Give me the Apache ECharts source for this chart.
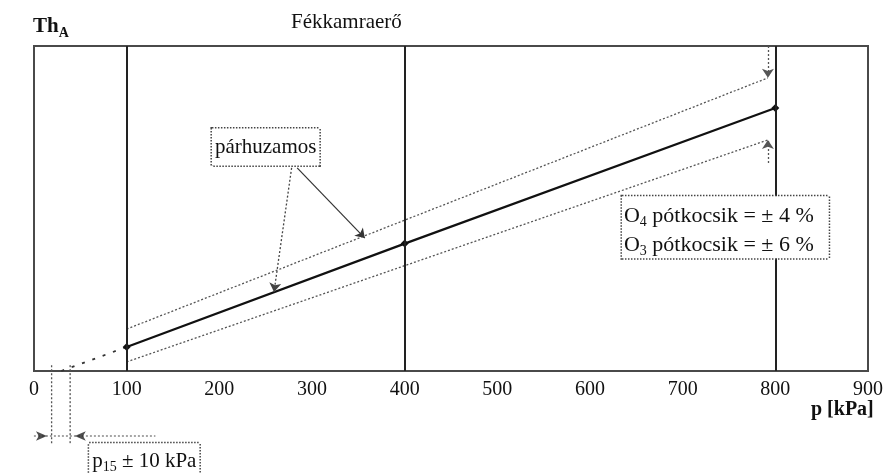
<!DOCTYPE html>
<html>
<head>
<meta charset="utf-8">
<script src="https://cdn.jsdelivr.net/npm/echarts/dist/echarts.min.js"></script>
<style>
  html, body { margin: 0; padding: 0; background: #fff; }
  #chart { width: 885px; height: 474px; }
</style>
</head>
<body>
<div id="chart"></div>
<script>
// Pressure axis (kPa)
const pressureMin = 0;
const pressureMax = 900;
const pressureStep = 100;

// Reference pressures marked with vertical lines
const refPressures = [100, 400, 800];

// Nominal braking-force characteristic Th_A(p)
const nominalP = [100, 400, 800];
const nominalTh = [7.4, 39.2, 80.9];

// Extrapolation of the characteristic down to the pressure axis
const extrapP = [29.5, 100];
const extrapTh = [0, 7.4];

// Parallel tolerance band
const upperP = [100, 792];
const upperTh = [12.9, 90.2];
const lowerP = [100, 792];
const lowerTh = [2.8, 71.1];

// Response pressure p15 and its tolerance (kPa)
const p15 = 29;
const p15Tol = 10;

const SERIF = '"Liberation Serif", "Times New Roman", serif';
const pairs = (xs, ys) => xs.map((x, i) => [x, ys[i]]);

const chart = echarts.init(document.getElementById('chart'), null, { renderer: 'canvas' });

const dotted = { color: '#555', width: 1.3, type: [2, 2] };

// arrowhead marker
function arrowHead(name, x, y, rotate) {
  return {
    name, type: 'scatter', clip: false, silent: true, z: 6,
    symbol: 'arrow', symbolSize: [7, 11], symbolRotate: rotate,
    itemStyle: { color: '#222' },
    data: [[x, y]]
  };
}

function segment(name, pts, style) {
  return {
    name, type: 'line', clip: false, silent: true, symbol: 'none',
    lineStyle: style, data: pts, z: 3
  };
}

const option = {
  animation: false,
  backgroundColor: '#fff',
  title: [
    {
      text: '{t|Th}{a|A}', left: 33, top: 13, padding: 0,
      textStyle: {
        rich: {
          t: { fontFamily: SERIF, fontSize: 21, fontWeight: 'bold', color: '#111', lineHeight: 24, verticalAlign: 'bottom' },
          a: { fontFamily: SERIF, fontSize: 14, fontWeight: 'bold', color: '#111', lineHeight: 24, verticalAlign: 'bottom', padding: [0, 0, -3, 0] }
        }
      }
    },
    {
      text: 'Fékkamraerő', left: 291, top: 12, padding: 0,
      textStyle: { fontFamily: SERIF, fontSize: 21, fontWeight: 'normal', color: '#111' }
    },
    {
      text: 'p [kPa]', left: 811, top: 400, padding: 0,
      textStyle: { fontFamily: SERIF, fontSize: 20, fontWeight: 'bold', color: '#111' }
    }
  ],
  grid: {
    left: 34, right: 17, top: 46, bottom: 103,
    show: true, borderColor: '#4a4a4a', borderWidth: 2,
    containLabel: false, outerBoundsMode: 'none'
  },
  xAxis: {
    type: 'value', min: pressureMin, max: pressureMax, interval: pressureStep,
    axisLine: { show: true, onZero: false, lineStyle: { color: '#4a4a4a', width: 2 } },
    axisTick: { show: false },
    splitLine: { show: false },
    axisLabel: { fontFamily: SERIF, fontSize: 20, color: '#111', margin: 9, showMaxLabel: true, showMinLabel: true }
  },
  yAxis: {
    type: 'value', min: 0, max: 100,
    axisLine: { show: false }, axisTick: { show: false },
    axisLabel: { show: false }, splitLine: { show: false }
  },
  series: [
    // nominal characteristic with reference verticals
    {
      name: 'nominal', type: 'line', z: 4,
      data: pairs(nominalP, nominalTh),
      symbol: 'diamond', symbolSize: 8,
      itemStyle: { color: '#111' },
      lineStyle: { color: '#111', width: 2.2 },
      markLine: {
        silent: true, symbol: 'none', animation: false,
        label: { show: false },
        lineStyle: { color: '#222', width: 2, type: 'solid' },
        data: refPressures.map(p => ({ xAxis: p }))
      }
    },
    {
      name: 'extrapolation', type: 'line', z: 4, symbol: 'none',
      data: pairs(extrapP, extrapTh),
      lineStyle: { color: '#333', width: 1.8, type: [3, 8] }
    },
    {
      name: 'upper', type: 'line', z: 3, symbol: 'none',
      data: pairs(upperP, upperTh),
      lineStyle: dotted
    },
    {
      name: 'lower', type: 'line', z: 3, symbol: 'none',
      data: pairs(lowerP, lowerTh),
      lineStyle: dotted,
      markLine: {
        silent: true, animation: false, label: { show: false },
        symbol: ['none', 'arrow'], symbolSize: 9,
        data: [
          // tolerance marks at the band ends
          [{ coord: [792, 100], lineStyle: dotted }, { coord: [792, upperTh[1]] }],
          [{ coord: [792, 64], lineStyle: dotted }, { coord: [792, lowerTh[1]] }],
          // pointers from the "párhuzamos" note
          [{ coord: [278, 62.5], lineStyle: { color: '#444', width: 1.3, type: [2, 2] } }, { coord: [259, 24.3] }],
          [{ coord: [284, 62.5], lineStyle: { color: '#333', width: 1.2, type: 'solid' } }, { coord: [357, 40.9] }]
        ],
        itemStyle: { color: '#222' }
      }
    },
    // p15 tolerance dimension below the axis
    segment('p15 lower limit', [[p15 - p15Tol, 1.8], [p15 - p15Tol, -22.8]], dotted),
    segment('p15 upper limit', [[p15 + p15Tol, 1.8], [p15 + p15Tol, -22.8]], dotted),
    segment('p15 dimension', [[-26, -20], [131, -20]], { color: '#777', width: 1.3, type: [2, 2] }),
    arrowHead('p15 arrow left', p15 - p15Tol - 5, -20, -90),
    arrowHead('p15 arrow right', p15 + p15Tol + 5, -20, 90)
  ]
};

chart.setOption(option);

// Note boxes, anchored in data space and converted through the grid's axes
const boxBase = {
  fontFamily: SERIF, fontSize: 21, fill: '#111',
  backgroundColor: '#fff', borderColor: '#444', borderWidth: 1.5, borderDash: [1.5, 1.5]
};
function noteBox(at, style) {
  const [x, y] = chart.convertToPixel({ gridIndex: 0 }, at);
  return { type: 'text', x, y, z: 100, silent: true, style: Object.assign({}, boxBase, style) };
}
chart.setOption({
  graphic: [
    noteBox([250, 68.9], {
      text: 'párhuzamos', align: 'center', verticalAlign: 'middle', padding: [8, 3, 8, 3]
    }),
    noteBox([119, -27.6], {
      text: '{p|p}{s|15}{p| ± 10 kPa}', align: 'center', verticalAlign: 'middle', padding: [3, 3, 6, 3],
      rich: {
        p: { fontFamily: SERIF, fontSize: 21, fill: '#111', lineHeight: 26, verticalAlign: 'bottom' },
        s: { fontFamily: SERIF, fontSize: 14, fill: '#111', lineHeight: 26, verticalAlign: 'bottom', padding: [0, 0, -2, 0] }
      }
    }),
    noteBox([634.5, 44.2], {
      text: '{n|O}{s|4}{n| pótkocsik = ± 4 %}\n{n|O}{s|3}{n| pótkocsik = ± 6 %}',
      align: 'left', verticalAlign: 'middle', padding: [2, 15, 2, 2],
      rich: {
        n: { fontFamily: SERIF, fontSize: 22, fill: '#111', lineHeight: 29, verticalAlign: 'bottom' },
        s: { fontFamily: SERIF, fontSize: 14, fill: '#111', lineHeight: 29, verticalAlign: 'bottom', padding: [0, 0, -2, 0] }
      }
    })
  ]
});
</script>
</body>
</html>
